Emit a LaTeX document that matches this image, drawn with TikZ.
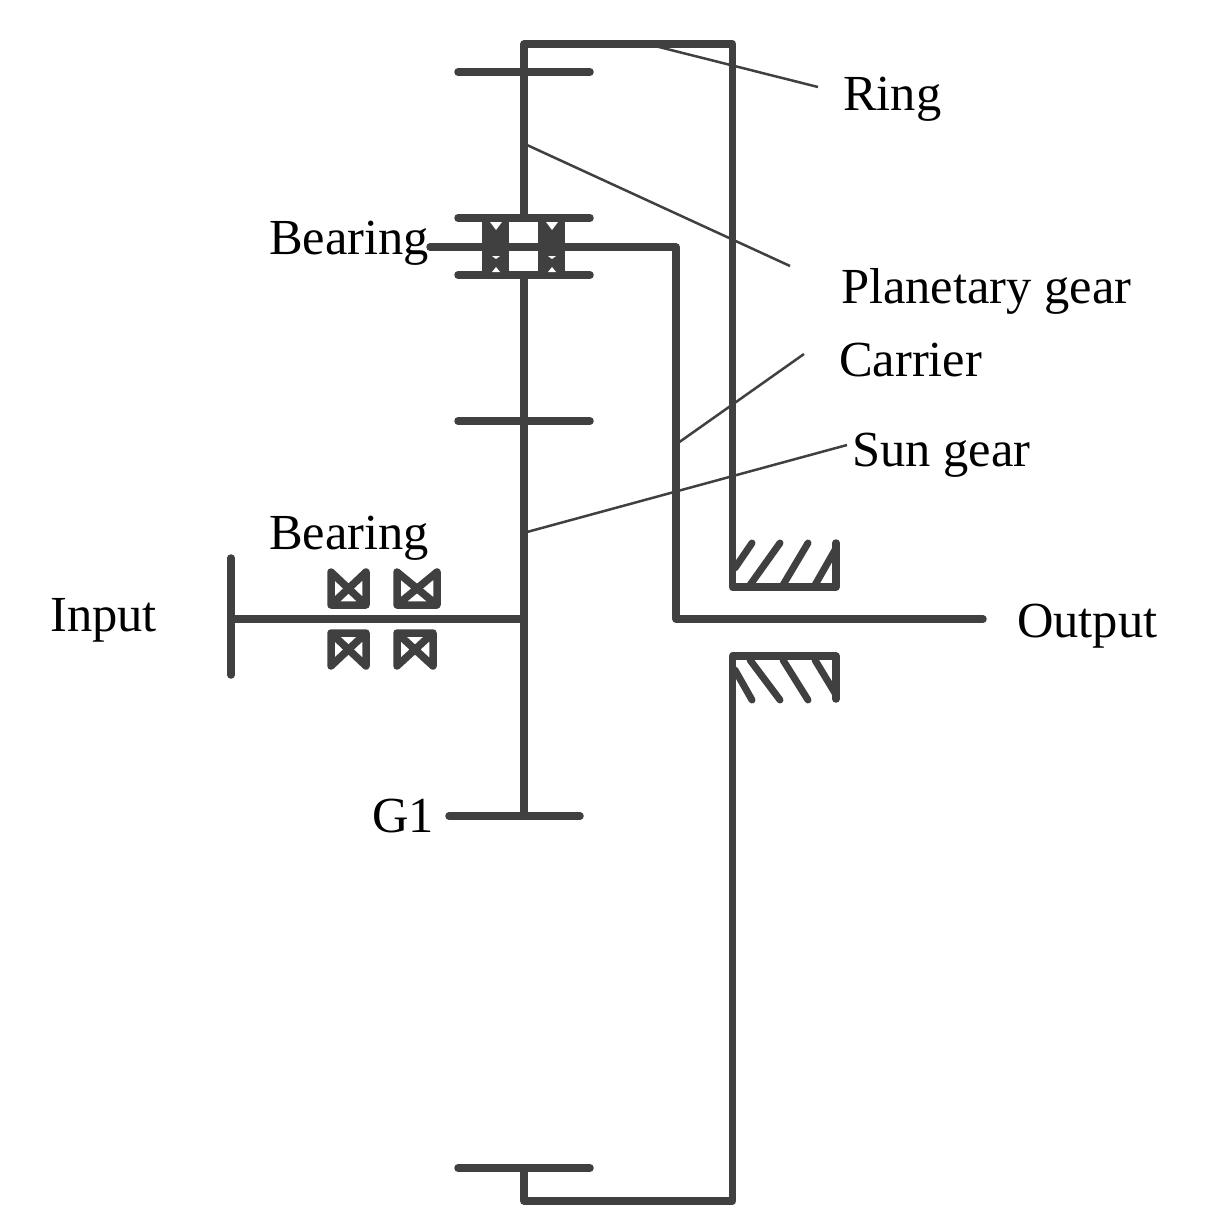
\documentclass[tikz,border=0pt]{standalone}
\usepackage{fontspec}
\setmainfont{Liberation Serif}
\usetikzlibrary{positioning}
\definecolor{shaftgray}{HTML}{404040}
\newcommand\brg[4]{\draw[part] (#1,#2) -- (#1,#4) -- (#3,#4) -- (#3,#2) -- (#1,#4) (#1,#2) -- (#3,#4);}
\newcommand\gearbar[3]{\draw[part] (#1,#3) -- (#2,#3);}
\tikzset{
  part/.style={draw=shaftgray, line width=7.5pt, line cap=round, line join=round},
  hatchline/.style={draw=shaftgray, line width=7pt, line cap=round},
  leader/.style={draw=shaftgray, line width=2.5pt},
  tag/.style={inner sep=0pt, anchor=base west, font=\fontsize{50.5}{60}\selectfont}
}
\begin{document}
\begin{tikzpicture}[x=1pt,y=-1pt]
\useasboundingbox (0,0) rectangle (1209,1229);
% shafts
\coordinate (ringa) at (524,44);
\coordinate (ringb) at (732.5,44);
\coordinate (grounda) at (732.5,587);
\coordinate (groundb) at (732.5,656);
\coordinate (ringc) at (732.5,1201);
\coordinate (ringd) at (524,1201);
\coordinate (planeta) at (524,218);
\coordinate (planetb) at (524,275);
\coordinate (sun) at (524,816);
\coordinate (hub) at (524,619);
\coordinate (inbar) at (231,619);
\draw[part] (planeta) -- (ringa) -- (ringb) -- (grounda) -- (836,587) -- (836,543);
\draw[part] (836,699) -- (836,656) -- (groundb) -- (ringc) -- (ringd) -- (524,1168);
\draw[part] (planetb) -- (sun);
\draw[part] (231,558) -- (231,675);
\draw[part] (inbar) -- (hub);
\draw[part] (430,247) -- (676,247) -- (676,619) -- (983,619);
% gears
\gearbar{458}{590}{72}
\gearbar{458}{590}{218}
\gearbar{458}{590}{275}
\gearbar{458}{590}{421}
\gearbar{449}{580}{816}
\gearbar{458}{590}{1168}
% bearings
\brg{331}{572}{366}{605}
\brg{397}{572}{437}{605}
\brg{331}{666}{366}{633}
\brg{397}{666}{433}{633}
\foreach \x in {482,538} {
  \fill[shaftgray] (\x,218) rectangle (\x+27,275);
  \fill[white] (\x+8,222) -- (\x+20,222) -- (\x+14,230) -- cycle;
  \fill[white] (\x+10,256) -- (\x+18,256) -- (\x+14,259) -- cycle;
  \fill[white] (\x+10,272) -- (\x+18,272) -- (\x+14,267) -- cycle;
}
% ground hatch
\foreach \xa/\ya/\xb/\yb in {735/568/752/543,750/585/780/543,783/585/808/543,815/585/835/550,735/670/752/700,750/660/780/700,783/660/808/700,815/660/835/693} {
  \draw[hatchline] (\xa,\ya) -- (\xb,\yb);
}
% labels
\node[tag] (ring) at (843,110) {Ring};
\node[tag] (planet) at (841,303) {Planetary gear};
\node[tag] (carrier) at (839,376) {Carrier};
\node[tag] (sungear) at (852,466) {Sun gear};
\node[tag] (bearingup) at (269,254) {Bearing};
\node[tag] (bearinglow) at (269,549) {Bearing};
\node[tag] (input) at (50,631) {Input};
\node[tag] (output) at (1017,637) {Output};
\node[tag] (gone) at (372,832) {G1};
% leaders
\coordinate (ringtip) at (655,46);
\coordinate (ringend) at (818,87);
\coordinate (planettip) at (527,145);
\coordinate (planetend) at (790,266);
\coordinate (carriertip) at (678,443);
\coordinate (carrierend) at (804,354);
\coordinate (suntip) at (527,532);
\coordinate (sunend) at (847,445);
\draw[leader] (ringtip) -- (ringend);
\draw[leader] (planettip) -- (planetend);
\draw[leader] (carriertip) -- (carrierend);
\draw[leader] (suntip) -- (sunend);
\end{tikzpicture}
\end{document}
